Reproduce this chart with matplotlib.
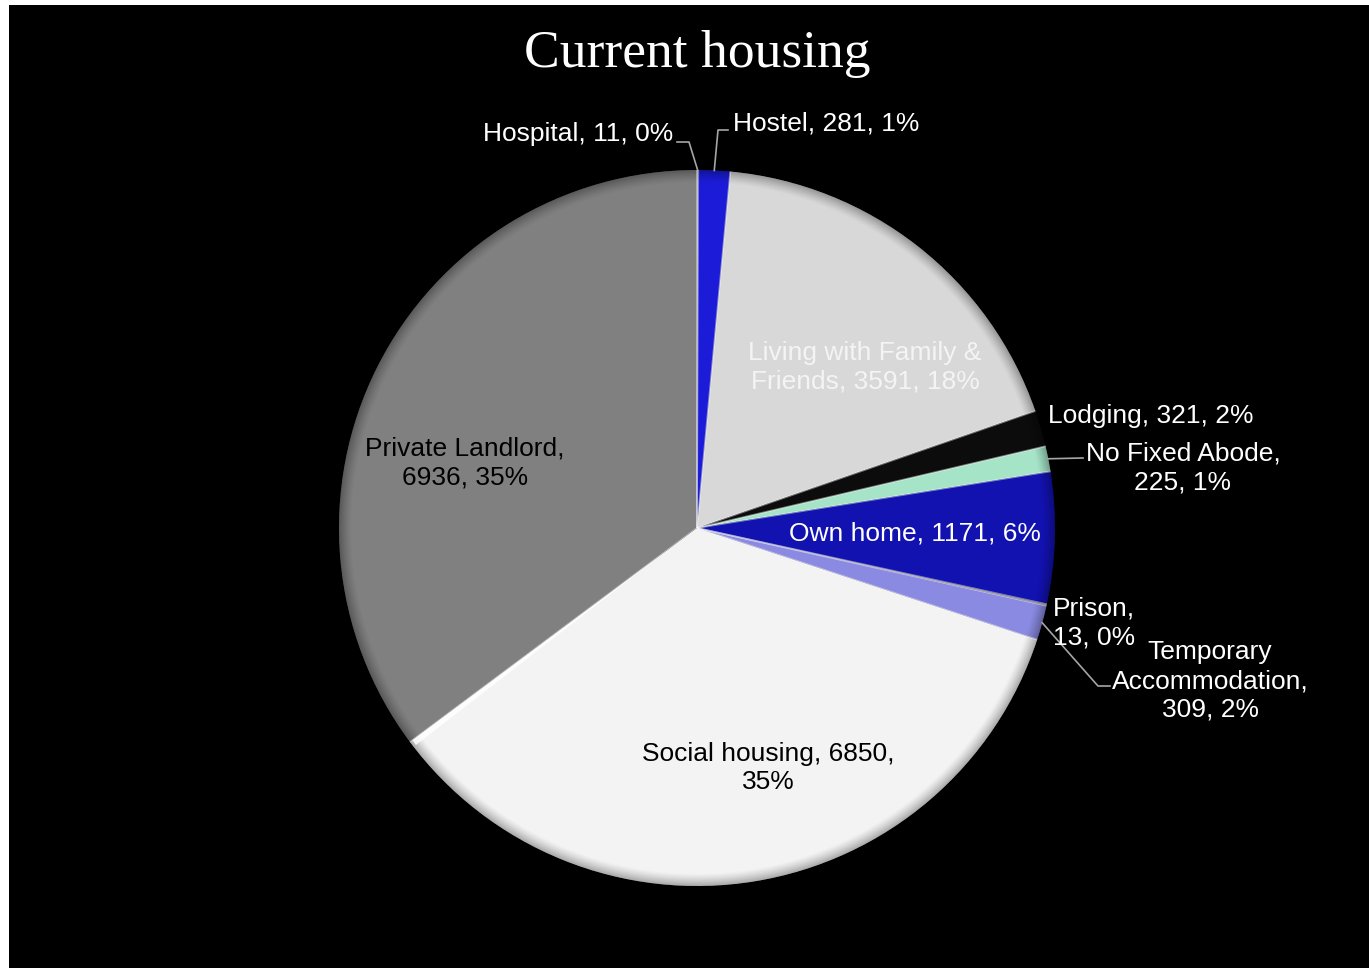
import textwrap
import numpy as np
import matplotlib
matplotlib.use("Agg")
import matplotlib.pyplot as plt
from matplotlib.patches import Rectangle, Circle, Polygon

# Housing situation counts, clockwise from 12 o'clock
categories = ["Hospital", "Hostel", "Living with Family & Friends", "Lodging",
              "No Fixed Abode", "Own home", "Prison", "Temporary Accommodation",
              "Social housing", "Private Landlord"]
counts = [11, 281, 3591, 321, 225, 1171, 13, 309, 6850, 6936]
title = "Current housing"

colors = ["#7a7a7a", "#1c1cd8", "#d8d8d8", "#0c0c0c", "#a6e4c8",
          "#1212b0", "#3a3a3a", "#8a8ae2", "#f3f3f3", "#808080"]

W, H = 1369, 968
fig = plt.figure(figsize=(W / 100, H / 100), dpi=100, facecolor="white")
fig.patches.append(Rectangle((9 / W, 0), 1 - 9 / W, (H - 5) / H,
                             transform=fig.transFigure, facecolor="black",
                             edgecolor="none", zorder=-1))
ax = fig.add_axes([0, 0, 1, 1])
ax.patch.set_alpha(0)

cx, cy, R = 697, H - 528, 358
wedges, _ = ax.pie(counts, colors=colors, startangle=90, counterclock=False,
                   center=(cx, cy), radius=R, frame=True,
                   wedgeprops=dict(linewidth=0, antialiased=True))
ax.set_xlim(0, W)
ax.set_ylim(0, H)
ax.axis("off")

# soft bevel: darkening toward the rim, clipped to the disc
n = 900
xs = np.linspace(cx - R, cx + R, n)
ys = np.linspace(cy - R, cy + R, n)
XX, YY = np.meshgrid(xs, ys)
rr = np.hypot(XX - cx, YY - cy) / R
alpha = np.clip((rr - 0.965) / 0.035, 0, 1) ** 1.3 * 0.3
shade = np.zeros((n, n, 4))
shade[..., 3] = alpha
im = ax.imshow(shade, extent=(cx - R, cx + R, cy - R, cy + R), origin="lower",
               zorder=3, interpolation="bilinear")
im.set_clip_path(Circle((cx, cy), R, transform=ax.transData))

# light edge highlights along each wedge's radial sides
for w in wedges:
    for ang in (w.theta1, w.theta2):
        a = np.deg2rad(ang)
        ax.plot([cx, cx + R * np.cos(a)], [cy, cy + R * np.sin(a)],
                color="white", alpha=0.25, lw=1.2, zorder=4,
                solid_capstyle="butt")

# tapered bright bevel just inside the social housing slice's leading edge
sh = wedges[categories.index("Social housing")]
a = np.deg2rad(sh.theta1)
u = np.array([np.cos(a), np.sin(a)])
perp = np.array([-np.sin(a), np.cos(a)])  # points into the slice
c = np.array([cx, cy], dtype=float)
tip = c + 40 * u
rim0 = c + (R - 3) * u
rim1 = rim0 + 6 * perp
ax.add_patch(Polygon([tip, rim0, rim1], closed=True, facecolor="white",
                     edgecolor="none", alpha=0.85, zorder=4))
ax.set_xlim(0, W)
ax.set_ylim(0, H)
ax.set_aspect("auto")

total = sum(counts)
font = "Liberation Sans"

# label layout: (x, y) in pixels from top-left, alignment, wrap width, colour
layout = {
    "Hospital": ((673, 134), "right", 40, "white"),
    "Hostel": ((733, 124), "left", 40, "white"),
    "Living with Family & Friends": ((865, 367), "center", 20, "#f4f4f4"),
    "Lodging": ((1048, 416), "left", 40, "white"),
    "No Fixed Abode": ((1183, 468), "center", 15, "white"),
    "Own home": ((915, 533), "center", 40, "white"),
    "Prison": ((1053, 623), "left", 7, "white"),
    "Temporary Accommodation": ((1210, 681), "center", 14, "white"),
    "Social housing": ((768, 768), "center", 21, "black"),
    "Private Landlord": ((465, 463), "center", 17, "black"),
}
# leader elbows (pixels) for labels placed off the pie
leaders = {
    "Hospital": [(689, 142), (677, 142)],
    "Hostel": [(718, 130), (728, 130)],
    "No Fixed Abode": [(1083, 458)],
    "Temporary Accommodation": [(1098, 686), (1110, 686)],
}

for cat, val, w in zip(categories, counts, wedges):
    pct = round(100 * val / total)
    text = textwrap.fill(f"{cat}, {val}, {pct}%", width=layout[cat][2])
    (px, py), ha, _, col = layout[cat]
    ax.text(px, H - py, text, ha=ha, va="center", multialignment="center"
            if ha == "center" else ha, color=col, fontsize=19, family=font,
            linespacing=1.25, zorder=6)
    if cat in leaders:
        mid = np.deg2rad((w.theta1 + w.theta2) / 2)
        pts = [(cx + R * np.cos(mid), cy + R * np.sin(mid))]
        pts += [(x, H - y) for x, y in leaders[cat]]
        ax.plot(*zip(*pts), color="#a6a6a6", lw=1.2, zorder=5)

ax.text(697, H - 54, title, ha="center", va="center", color="white",
        fontsize=38.5, family="Liberation Serif", zorder=6)

fig.savefig("out.png", dpi=100, facecolor="white")
